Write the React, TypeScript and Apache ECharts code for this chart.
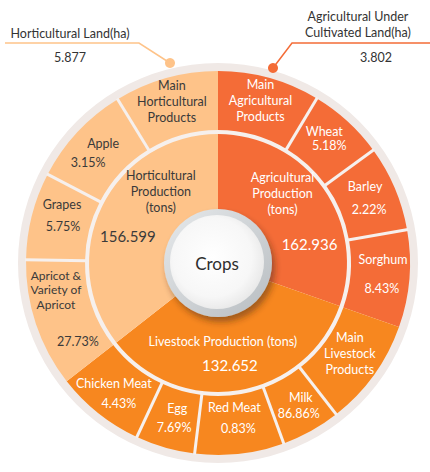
import React, { useEffect, useRef } from "react";
import * as echarts from "echarts";

// ---------- data ----------
const outerNames = [
  "Main\nAgricultural\nProducts",
  "Wheat",
  "Barley",
  "Sorghum",
  "Main\nLivestock\nProducts",
  "Milk",
  "Red Meat",
  "Egg",
  "Chicken Meat",
  "Apricot &\nVariety of\nApricot",
  "Grapes",
  "Apple",
  "Main\nHorticultural\nProducts",
];
const outerShares: (number | null)[] = [null, 5.18, 2.22, 8.43, null, 86.86, 0.83, 7.69, 4.43, 27.73, 5.75, 3.15, null];
// angular size of each outer segment (degrees), as drawn in the picture
const outerSpans = [31, 23, 26, 29.5, 32.5, 18, 27, 18, 27, 39, 26.5, 31, 31.5];
const outerGroup = [0, 0, 0, 0, 1, 1, 1, 1, 1, 2, 2, 2, 2];

const groupNames = ["Agricultural\nProduction\n(tons)", "Livestock Production (tons)", "Horticultural\nProduction\n(tons)"];
const groupValues = [162.936, 132.652, 156.599];

const landLabels = ["Horticultural Land(ha)", "Agricultural Under\nCultivated Land(ha)"];
const landValues = [5.877, 3.802];
const centerLabel = "Crops";

// ---------- styles ----------
const FONT = "Lato";
const CX = 218;
const CY = 263;
const R_IN0 = 50;
const R_IN1 = 129;
const R_SEP = 133;
const R_OUT1 = 192;
const R_RIM = 200;
const groupColors = ["#f46c37", "#f7871f", "#fec389"];
const groupText = ["#ffffff", "#ffffff", "#3a3a3a"];
const SEP = "#f6f0ed";
const RIM = "#f0e9e6";

// outer label placement relative to the segment centre: name offset, value offset, line height
type OLay = { n: [number, number]; v?: [number, number]; lh: number; fs?: number };
const outerLayout: OLay[] = [
  { n: [-1, -6], lh: 16 },
  { n: [-3.5, -11.5], v: [1.5, 2.5], lh: 16 },
  { n: [-2.5, -13.5], v: [1.5, 9.5], lh: 16 },
  { n: [3, -16.5], v: [2, 12.5], lh: 16 },
  { n: [0, -4.5], lh: 16 },
  { n: [4, -8], v: [2, 8], lh: 16 },
  { n: [-2, -16.5], v: [2, 4.5], lh: 16 },
  { n: [4, -11], v: [1, 8], lh: 16 },
  { n: [-3, -7], v: [2, 13], lh: 16 },
  { n: [-8, -25], v: [14, 27], lh: 14.5, fs: 12 },
  { n: [1.5, -19], v: [2.5, 3], lh: 16 },
  { n: [4, -9], v: [-11, 10], lh: 16 },
  { n: [-2, -5.5], lh: 16 },
];

type Lay = { lh: number; vlh?: number; dy: number; nx: number; vx: number };
const innerLayout: Lay[] = [
  { lh: 16, vlh: 52, dy: 10, nx: -11, vx: 16 },
  { lh: 16, vlh: 32, dy: 3, nx: -10, vx: -3 },
  { lh: 16, vlh: 42, dy: -10, nx: 26, vx: -7 },
];

function shiftPad(s: number): number[] {
  if (s > 0) return [0, 0, 0, 2 * s];
  if (s < 0) return [0, -2 * s, 0, 0];
  return [0, 0, 0, 0];
}

function buildLabel(name: string, value: string | null, L: Lay, color: string, nameSize: number, valueSize: number) {
  const parts: string[] = [];
  if (L.dy > 0) parts.push("{e| }");
  name.split("\n").forEach((l) => parts.push(`{n|${l}}`));
  if (value) parts.push(`{v|${value}}`);
  if (L.dy < 0) parts.push("{e| }");
  return {
    show: true,
    position: "inside",
    rotate: 0,
    formatter: parts.join("\n"),
    rich: {
      e: { fontSize: 2, lineHeight: Math.max(1, Math.abs(L.dy) * 2) },
      n: { color, fontFamily: FONT, fontSize: nameSize, lineHeight: L.lh, padding: shiftPad(L.nx) },
      v: { color, fontFamily: FONT, fontSize: valueSize, lineHeight: L.vlh ?? L.lh, padding: shiftPad(L.vx) },
    },
  };
}

function buildOption() {
  const groupSpans = [0, 0, 0];
  outerSpans.forEach((s, i) => (groupSpans[outerGroup[i]] += s));

  const outerData = outerSpans.map((s, i) => ({
    value: s,
    name: outerNames[i],
    itemStyle: { color: groupColors[outerGroup[i]] },
  }));

  const innerData = groupSpans.map((s, i) => ({
    value: s,
    name: groupNames[i],
    itemStyle: { color: groupColors[i] },
    label: buildLabel(groupNames[i], groupValues[i].toFixed(3), innerLayout[i], groupText[i], 12.5, 15),
  }));

  const textEl = (text: string, x: number, y: number, extra: any = {}) => ({
    type: "text",
    z: 20,
    silent: true,
    x,
    y,
    style: {
      text,
      fill: "#333333",
      fontFamily: FONT,
      fontSize: 12.5,
      align: "center",
      verticalAlign: "middle",
      lineHeight: 16,
      ...extra,
    },
  });

  // separator lines inside each group of the outer ring + labels at each segment centre
  const sepLines: any[] = [];
  const outerTexts: any[] = [];
  const rMid = (R_SEP + R_OUT1) / 2;
  let cum = 0;
  for (let i = 0; i < outerSpans.length; i++) {
    const mid = ((90 - cum - outerSpans[i] / 2) * Math.PI) / 180;
    const ax = CX + rMid * Math.cos(mid);
    const ay = CY - rMid * Math.sin(mid);
    const L = outerLayout[i];
    const col = groupText[outerGroup[i]];
    outerTexts.push(
      textEl(outerNames[i], ax + L.n[0], ay + L.n[1], { fill: col, lineHeight: L.lh, fontSize: L.fs ?? 12.5 })
    );
    if (outerShares[i] != null && L.v) {
      outerTexts.push(textEl((outerShares[i] as number).toFixed(2) + "%", ax + L.v[0], ay + L.v[1], { fill: col }));
    }

    cum += outerSpans[i];
    const next = (i + 1) % outerSpans.length;
    if (outerGroup[i] !== outerGroup[next]) continue;
    const a = ((90 - cum) * Math.PI) / 180;
    const c = Math.cos(a);
    const sn = Math.sin(a);
    sepLines.push({
      type: "line",
      z: 10,
      silent: true,
      shape: {
        x1: CX + (R_SEP - 1) * c,
        y1: CY - (R_SEP - 1) * sn,
        x2: CX + (R_OUT1 + 1) * c,
        y2: CY - (R_OUT1 + 1) * sn,
      },
      style: { stroke: SEP, lineWidth: 3 },
    });
  }

  const common = {
    type: "pie",
    center: [CX, CY],
    startAngle: 90,
    clockwise: true,
    avoidLabelOverlap: false,
    silent: true,
    labelLine: { show: false },
    emphasis: { disabled: true },
    itemStyle: { borderWidth: 0 },
  };

  return {
    animation: false,
    series: [
      { ...common, radius: [R_OUT1 - 1, R_RIM], data: [{ value: 1, itemStyle: { color: RIM } }], label: { show: false } },
      { ...common, radius: [R_IN1 - 1, R_SEP + 1], data: [{ value: 1, itemStyle: { color: SEP } }], label: { show: false } },
      { ...common, radius: [R_SEP, R_OUT1], data: outerData, label: { show: false } },
      { ...common, radius: [R_IN0, R_IN1], data: innerData },
    ],
    graphic: {
      elements: [
        ...sepLines,
        ...outerTexts,
        // centre badge
        {
          type: "circle",
          z: 30,
          silent: true,
          shape: { cx: CX, cy: CY, r: 54 },
          style: {
            fill: {
              type: "linear", x: 0, y: 0, x2: 1, y2: 1,
              colorStops: [
                { offset: 0, color: "#e6e9eb" },
                { offset: 1, color: "#b8bdc1" },
              ],
            },
            shadowBlur: 6,
            shadowOffsetX: 3,
            shadowOffsetY: 5,
            shadowColor: "rgba(60,40,30,0.45)",
          },
        },
        {
          type: "circle",
          z: 31,
          silent: true,
          shape: { cx: CX - 1, cy: CY - 1, r: 47 },
          style: {
            fill: {
              type: "radial", x: 0.45, y: 0.45, r: 0.6,
              colorStops: [
                { offset: 0, color: "#ffffff" },
                { offset: 0.7, color: "#f7f7f7" },
                { offset: 1, color: "#e6e6e6" },
              ],
            },
          },
        },
        { ...textEl(centerLabel, CX - 1, CY, { fontSize: 17, fill: "#2e2e2e" }), z: 32 },
        // land annotations
        {
          type: "polyline",
          z: 5,
          silent: true,
          shape: { points: [[5, 43], [139, 43], [170, 63]] },
          style: { stroke: groupColors[2], lineWidth: 1.5, fill: "none" },
        },
        { type: "circle", z: 35, silent: true, shape: { cx: 170, cy: 63, r: 5 }, style: { fill: groupColors[2] } },
        {
          type: "polyline",
          z: 5,
          silent: true,
          shape: { points: [[430, 43], [292, 43], [273, 68]] },
          style: { stroke: groupColors[0], lineWidth: 1.5, fill: "none" },
        },
        { type: "circle", z: 35, silent: true, shape: { cx: 273, cy: 68, r: 5 }, style: { fill: groupColors[0] } },
        textEl(landLabels[0], 70, 33),
        textEl(landValues[0].toFixed(3), 70, 57),
        textEl(landLabels[1], 358, 24),
        textEl(landValues[1].toFixed(3), 376, 57),
      ],
    },
  };
}

export default function App() {
  const ref = useRef<HTMLDivElement>(null);
  useEffect(() => {
    document.body.style.margin = "0";
    if (!ref.current) return;
    const chart = echarts.init(ref.current, undefined, { renderer: "svg" });
    chart.setOption(buildOption() as any);
    return () => chart.dispose();
  }, []);
  return <div ref={ref} style={{ width: 430, height: 472, background: "#ffffff" }} />;
}
